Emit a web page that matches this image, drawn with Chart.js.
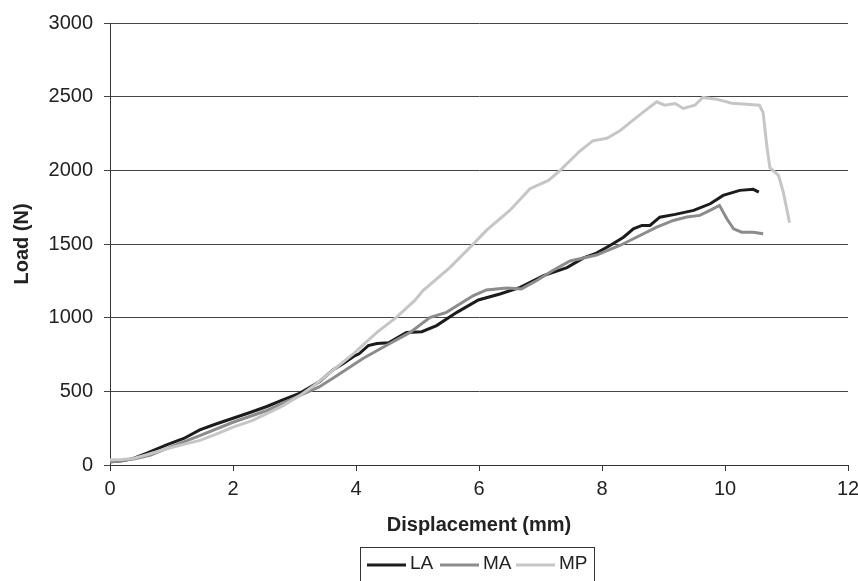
<!DOCTYPE html>
<html>
<head>
<meta charset="utf-8">
<script src="https://cdn.jsdelivr.net/npm/chart.js@4.4.0/dist/chart.umd.min.js"></script>
<style>
  html, body { margin: 0; padding: 0; background: #fff; }
  #graph { display: block; }
</style>
</head>
<body>
<canvas id="graph" width="858" height="581"></canvas>
<script>
  // values
  const laX = [0, 0.2, 0.38, 0.6, 0.92, 1.2, 1.46, 1.7, 2.0, 2.3, 2.55, 2.8, 3.09, 3.41, 3.63, 3.8, 3.96, 4.05, 4.2, 4.34, 4.53, 4.82, 5.07, 5.31, 5.64, 5.99, 6.34, 6.67, 7.05, 7.43, 7.7, 7.91, 8.13, 8.35, 8.51, 8.65, 8.78, 8.94, 9.19, 9.49, 9.76, 9.97, 10.24, 10.46, 10.55];
  const laY = [22, 28, 45, 80, 136, 180, 238, 275, 317, 360, 397, 440, 488, 567, 647, 690, 737, 755, 810, 825, 830, 900, 905, 946, 1036, 1120, 1161, 1206, 1286, 1340, 1406, 1438, 1490, 1546, 1603, 1626, 1626, 1682, 1701, 1728, 1773, 1830, 1864, 1871, 1852];

  const maX = [0, 0.2, 0.4, 0.65, 1.0, 1.46, 2.0, 2.55, 3.09, 3.4, 3.63, 4.12, 4.55, 4.88, 5.2, 5.47, 5.91, 6.12, 6.45, 6.69, 6.94, 7.2, 7.48, 7.91, 8.29, 8.56, 8.89, 9.16, 9.38, 9.59, 9.78, 9.91, 10.03, 10.14, 10.27, 10.46, 10.62];
  const maY = [20, 30, 42, 65, 125, 200, 290, 370, 472, 530, 590, 725, 825, 900, 1000, 1036, 1150, 1188, 1202, 1195, 1252, 1320, 1385, 1425, 1490, 1546, 1614, 1660, 1683, 1694, 1733, 1762, 1671, 1603, 1580, 1580, 1569];

  const mpX = [0, 0.2, 0.38, 0.6, 0.92, 1.2, 1.46, 1.7, 2.0, 2.3, 2.55, 2.8, 3.09, 3.35, 3.63, 3.96, 4.34, 4.66, 4.96, 5.09, 5.53, 5.91, 6.12, 6.5, 6.83, 7.13, 7.32, 7.64, 7.85, 8.08, 8.29, 8.46, 8.67, 8.89, 9.02, 9.19, 9.32, 9.51, 9.64, 9.86, 10.11, 10.35, 10.56, 10.62, 10.68, 10.73, 10.87, 10.95, 11.05];
  const mpY = [35, 38, 45, 70, 110, 140, 167, 205, 257, 300, 348, 400, 472, 550, 645, 756, 900, 1004, 1119, 1184, 1342, 1501, 1592, 1728, 1875, 1932, 2000, 2131, 2200, 2218, 2268, 2325, 2395, 2465, 2442, 2453, 2420, 2442, 2495, 2483, 2456, 2449, 2442, 2392, 2165, 2018, 1966, 1848, 1644];

  const seriesNames = ['LA', 'MA', 'MP'];
  const seriesColors = ['#1c1c1c', '#8c8c8c', '#c6c6c6'];
  const xTicks = [0, 2, 4, 6, 8, 10, 12];
  const yTicks = [0, 500, 1000, 1500, 2000, 2500, 3000];

  function pts(xs, ys){
    return xs.map((x, i) => ({ x: x, y: ys[i] }));
  }

  const fontFam = '"Liberation Sans", Arial, sans-serif';

  // boxed legend under the axis title, like the reference
  const boxLegend = {
    id: 'boxLegend',
    afterDraw(chart){
      const ctx = chart.ctx;
      ctx.save();
      ctx.strokeStyle = '#333';
      ctx.lineWidth = 1;
      ctx.strokeRect(360.5, 547.5, 234, 45);
      const starts = [367, 440, 516];
      ctx.font = '19px ' + fontFam;
      ctx.textBaseline = 'middle';
      ctx.fillStyle = '#222';
      chart.data.datasets.forEach((ds, i) => {
        const x0 = starts[i];
        ctx.strokeStyle = ds.borderColor;
        ctx.lineWidth = 3;
        ctx.beginPath();
        ctx.moveTo(x0, 565);
        ctx.lineTo(x0 + 39, 565);
        ctx.stroke();
        ctx.fillText(ds.label, x0 + 43, 564);
      });
      ctx.restore();
    }
  };

  const chart = new Chart(document.getElementById('graph'), {
    type: 'line',
    data: {
      datasets: [
        { label: seriesNames[0], data: pts(laX, laY), borderColor: seriesColors[0], order: 2 },
        { label: seriesNames[1], data: pts(maX, maY), borderColor: seriesColors[1], order: 1 },
        { label: seriesNames[2], data: pts(mpX, mpY), borderColor: seriesColors[2], order: 0 }
      ]
    },
    options: {
      responsive: false,
      animation: false,
      devicePixelRatio: 1,
      layout: { padding: { left: 0, right: 0, top: 22, bottom: 44 } },
      elements: {
        line: { borderWidth: 3, tension: 0, fill: false },
        point: { radius: 0 }
      },
      plugins: {
        legend: { display: false },
        tooltip: { enabled: false }
      },
      scales: {
        x: {
          type: 'linear',
          min: 0,
          max: 12,
          afterBuildTicks: (s) => { s.ticks = xTicks.map(v => ({ value: v })); },
          afterFit: (s) => { s.height = 72; s.paddingRight = 10; s.paddingLeft = 0; },
          grid: { drawOnChartArea: false, drawTicks: true, tickLength: 6, color: '#333' },
          border: { display: true, color: '#333', width: 1 },
          ticks: { color: '#222', font: { family: fontFam, size: 20 }, padding: 6, maxRotation: 0,
            callback: (v) => String(v) },
          title: {
            display: true,
            text: 'Displacement (mm)',
            color: '#222',
            font: { family: fontFam, size: 20, weight: 'bold' },
            padding: { top: 0, bottom: 0 }
          }
        },
        y: {
          min: 0,
          max: 3000,
          afterBuildTicks: (s) => { s.ticks = yTicks.map(v => ({ value: v })); },
          afterFit: (s) => { s.width = 110; },
          grid: { drawTicks: true, tickLength: 6, color: '#444', lineWidth: 1 },
          border: { display: true, color: '#333', width: 1 },
          ticks: { color: '#222', font: { family: fontFam, size: 20 }, padding: 11,
            callback: (v) => String(v) },
          title: {
            display: true,
            text: 'Load (N)',
            color: '#222',
            font: { family: fontFam, size: 20, weight: 'bold' },
            padding: { top: 10, bottom: 0 }
          }
        }
      }
    },
    plugins: [boxLegend]
  });
</script>
</body>
</html>
